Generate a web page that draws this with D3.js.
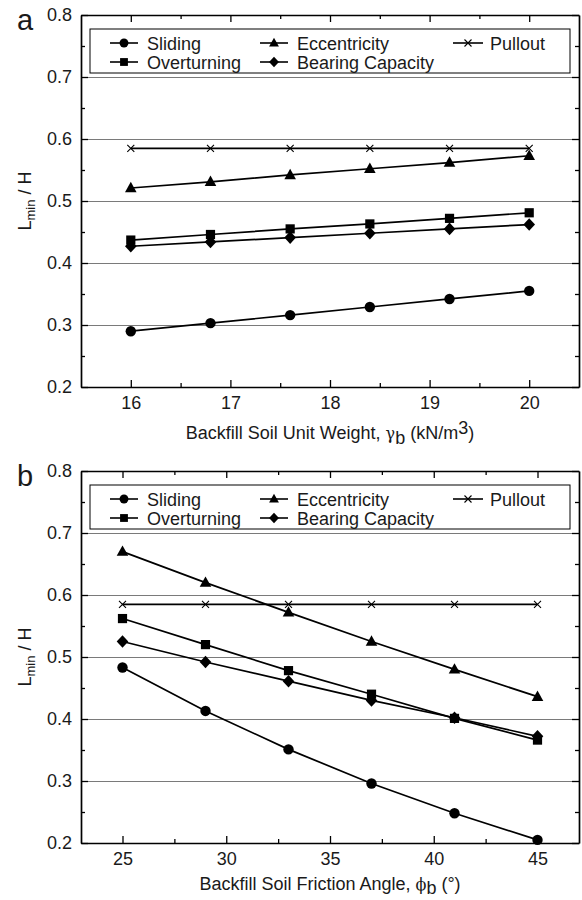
<!DOCTYPE html>
<html><head><meta charset="utf-8">
<script src="https://cdn.jsdelivr.net/npm/d3@7"></script>
<style>body{margin:0;background:#fff}svg{display:block}</style></head>
<body><svg id="c" width="582" height="900"></svg>
<script>
// ---- data ----
const xA = [16, 16.8, 17.6, 18.4, 19.2, 20];
const slidingA = [0.290, 0.303, 0.316, 0.329, 0.342, 0.355];
const overturningA = [0.437, 0.446, 0.455, 0.463, 0.472, 0.481];
const eccentricityA = [0.521, 0.531, 0.542, 0.552, 0.562, 0.573];
const bearingA = [0.427, 0.434, 0.441, 0.448, 0.455, 0.462];
const pulloutA = [0.585, 0.585, 0.585, 0.585, 0.585, 0.585];

const xB = [25, 29, 33, 37, 41, 45];
const slidingB = [0.483, 0.413, 0.351, 0.296, 0.248, 0.205];
const overturningB = [0.562, 0.520, 0.478, 0.440, 0.401, 0.366];
const eccentricityB = [0.670, 0.620, 0.572, 0.525, 0.480, 0.436];
const bearingB = [0.525, 0.492, 0.461, 0.430, 0.402, 0.372];
const pulloutB = [0.585, 0.585, 0.585, 0.585, 0.585, 0.585];

const seriesNames = ["Sliding", "Overturning", "Eccentricity", "Bearing Capacity", "Pullout"];
const seriesSymbols = ["circle", "square", "triangle", "diamond", "cross"];
const yTicks = [0.2, 0.3, 0.4, 0.5, 0.6, 0.7, 0.8];
const yMinorTicks = [0.25, 0.35, 0.45, 0.55, 0.65, 0.75];
const gridTicks = [0.3, 0.4, 0.5, 0.6, 0.7];
const xTicksA = [16, 17, 18, 19, 20];
const xMinorA = [16.5, 17.5, 18.5, 19.5];
const xTicksB = [25, 30, 35, 40, 45];
const xMinorB = [27.5, 32.5, 37.5, 42.5];

const svg = d3.select("#c");
const FONT = "Liberation Sans, Arial, sans-serif";
const FS = 18;
const L = 81, R = 579;

function marker(g, type, x, y, s) {
  s = s || 1;
  if (type === "circle") g.append("circle").attr("cx", x).attr("cy", y).attr("r", 5.2 * s).attr("fill", "#000");
  else if (type === "square") g.append("rect").attr("x", x - 4.6 * s).attr("y", y - 4.6 * s).attr("width", 9.2 * s).attr("height", 9.2 * s).attr("fill", "#000");
  else if (type === "triangle") g.append("path").attr("d", `M${x},${y - 6.2 * s}L${x + 5.8 * s},${y + 4.2 * s}L${x - 5.8 * s},${y + 4.2 * s}Z`).attr("fill", "#000");
  else if (type === "diamond") g.append("path").attr("d", `M${x},${y - 6.3 * s}L${x + 5.8 * s},${y}L${x},${y + 6.3 * s}L${x - 5.8 * s},${y}Z`).attr("fill", "#000");
  else if (type === "cross") g.append("path").attr("d", `M${x - 3.5},${y - 3.5}L${x + 3.5},${y + 3.5}M${x - 3.5},${y + 3.5}L${x + 3.5},${y - 3.5}`).attr("stroke", "#000").attr("stroke-width", 1.1);
}

function panel(cfg) {
  const T = cfg.top, B = cfg.bottom;
  const x = d3.scaleLinear().domain(cfg.xDomain).range([L, R]);
  const y = d3.scaleLinear().domain([0.2, 0.8]).range([B, T]);
  const g = svg.append("g");

  // gridlines
  g.append("g").attr("transform", `translate(${L},0)`)
    .call(d3.axisLeft(y).tickValues(gridTicks).tickSize(-(R - L)).tickFormat(""))
    .call(a => a.select(".domain").remove())
    .call(a => a.selectAll("line").attr("stroke", "#7a7a7a").attr("stroke-width", 1.1));

  // minor ticks
  const minorStyle = a => { a.select(".domain").remove(); a.selectAll("line").attr("stroke", "#000").attr("stroke-width", 1.3); };
  g.append("g").attr("transform", `translate(0,${B})`).call(d3.axisBottom(x).tickValues(cfg.xMinor).tickSize(-4).tickFormat("")).call(minorStyle);
  g.append("g").attr("transform", `translate(0,${T})`).call(d3.axisTop(x).tickValues(cfg.xMinor).tickSize(-4).tickFormat("")).call(minorStyle);
  g.append("g").attr("transform", `translate(${L},0)`).call(d3.axisLeft(y).tickValues(yMinorTicks).tickSize(-4).tickFormat("")).call(minorStyle);
  g.append("g").attr("transform", `translate(${R},0)`).call(d3.axisRight(y).tickValues(yMinorTicks).tickSize(-4).tickFormat("")).call(minorStyle);

  // major axes
  const majorStyle = a => {
    a.select(".domain").attr("stroke", "#000").attr("stroke-width", 1.7);
    a.selectAll("line").attr("stroke", "#000").attr("stroke-width", 1.3);
    a.selectAll("text").attr("font-family", FONT).attr("font-size", FS).attr("fill", "#1a1a1a");
  };
  g.append("g").attr("transform", `translate(0,${B})`)
    .call(d3.axisBottom(x).tickValues(cfg.xTicks).tickSize(-7).tickSizeOuter(0).tickPadding(9).tickFormat(d3.format("d")))
    .call(majorStyle);
  g.append("g").attr("transform", `translate(0,${T})`)
    .call(d3.axisTop(x).tickValues(cfg.xTicks).tickSize(-7).tickSizeOuter(0).tickFormat(""))
    .call(majorStyle);
  g.append("g").attr("transform", `translate(${L},0)`)
    .call(d3.axisLeft(y).tickValues(yTicks).tickSize(-7).tickSizeOuter(0).tickPadding(9).tickFormat(d3.format(".1f")))
    .call(majorStyle);
  g.append("g").attr("transform", `translate(${R},0)`)
    .call(d3.axisRight(y).tickValues(yTicks).tickSize(-7).tickSizeOuter(0).tickFormat(""))
    .call(majorStyle);

  // series
  const line = d3.line().x(d => x(d[0])).y(d => y(d[1]));
  const order = [4, 2, 1, 3, 0];
  order.forEach(i => {
    const pts = cfg.xs.map((v, j) => [v, cfg.series[i][j]]);
    g.append("path").attr("d", line(pts)).attr("fill", "none").attr("stroke", "#000").attr("stroke-width", 1.7);
  });
  order.forEach(i => {
    cfg.xs.forEach((v, j) => marker(g, seriesSymbols[i], x(v), y(cfg.series[i][j])));
  });

  // legend
  const lt = T + 14;
  g.append("rect").attr("x", 90).attr("y", lt).attr("width", 480).attr("height", 44)
    .attr("fill", "#fff").attr("stroke", "#000").attr("stroke-width", 1);
  const pos = [
    [110, lt + 14], [110, lt + 33], [260, lt + 14], [260, lt + 33], [453, lt + 14]
  ];
  seriesNames.forEach((n, i) => {
    const [px, py] = pos[i];
    const w = i === 4 ? 30 : 28;
    g.append("line").attr("x1", px).attr("x2", px + w).attr("y1", py).attr("y2", py).attr("stroke", "#000").attr("stroke-width", 1.6);
    marker(g, seriesSymbols[i], px + w / 2, py, 0.85);
    g.append("text").attr("x", px + w + (i === 4 ? 7 : 9)).attr("y", py + 6.5).text(n)
      .attr("font-family", FONT).attr("font-size", FS).attr("fill", "#1a1a1a");
  });

  // panel letter
  g.append("text").attr("x", 17).attr("y", T + 15).text(cfg.letter)
    .attr("font-family", FONT).attr("font-size", 29).attr("fill", "#1a1a1a");

  // y title
  const yt = g.append("text").attr("transform", `translate(31,${(T + B) / 2}) rotate(-90)`)
    .attr("text-anchor", "middle").attr("font-family", FONT).attr("font-size", FS).attr("fill", "#1a1a1a");
  yt.append("tspan").text("L");
  yt.append("tspan").text("min").attr("font-size", 13).attr("dy", 4);
  yt.append("tspan").text(" / H").attr("dy", -4);

  // x title
  const xt = g.append("text").attr("x", (L + R) / 2).attr("y", B + cfg.titleOff)
    .attr("text-anchor", "middle").attr("font-family", FONT).attr("font-size", FS).attr("fill", "#1a1a1a");
  cfg.xTitle(xt);
}

panel({
  top: 15, bottom: 387, letter: "a", xDomain: [15.5, 20.5], xs: xA,
  xTicks: xTicksA, xMinor: xMinorA, titleOff: 52,
  series: [slidingA, overturningA, eccentricityA, bearingA, pulloutA],
  xTitle: t => {
    t.append("tspan").text("Backfill Soil Unit Weight, ");
    t.append("tspan").text("γ").attr("font-family", "DejaVu Serif, serif").attr("font-size", 16);
    t.append("tspan").text("b").attr("dy", 5);
    t.append("tspan").text(" (kN/m").attr("dy", -5);
    t.append("tspan").text("3").attr("dy", -5);
    t.append("tspan").text(")").attr("dy", 5);
  }
});

panel({
  top: 471, bottom: 843, letter: "b", xDomain: [23, 47], xs: xB,
  xTicks: xTicksB, xMinor: xMinorB, titleOff: 47,
  series: [slidingB, overturningB, eccentricityB, bearingB, pulloutB],
  xTitle: t => {
    t.append("tspan").text("Backfill Soil Friction Angle, ");
    t.append("tspan").text("ϕ").attr("font-family", "DejaVu Serif, serif").attr("font-size", 16);
    t.append("tspan").text("b").attr("dy", 4);
    t.append("tspan").text(" (°)").attr("dy", -4);
  }
});
</script></body></html>
